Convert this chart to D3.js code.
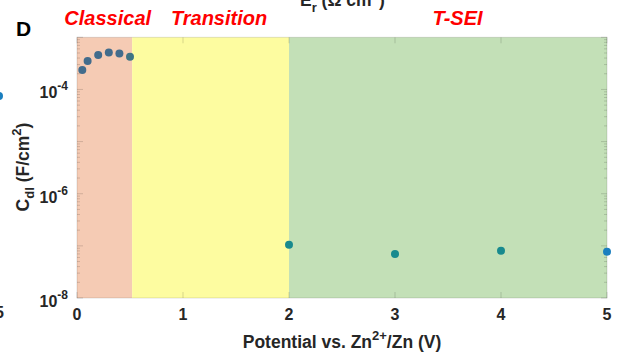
<!DOCTYPE html>
<html>
<head>
<meta charset="utf-8">
<script src="https://cdn.jsdelivr.net/npm/d3@7"></script>
<style>
    body { margin: 0; background: #fff; }
    svg { display: block; font-family: Arial, "Liberation Sans", sans-serif; }
    .tick_label { font-size: 16px; font-weight: bold; fill: #262626; }
    .region_label { font-size: 20px; font-weight: bold; font-style: italic; fill: #ff0000; }
</style>
</head>
<body>
<svg id="chart" width="621" height="360"></svg>
<script>
// potential (V) and double-layer capacitance (F/cm2)
let classical_x = [0.05, 0.1, 0.2, 0.3, 0.4, 0.5],
    classical_c = [2.35e-4, 3.5e-4, 4.6e-4, 5.1e-4, 4.9e-4, 4.25e-4];
let tsei_x = [2, 3, 4, 5],
    tsei_c = [1.05e-7, 7.0e-8, 8.1e-8, 7.7e-8];

let regions = [
    {name: "Classical", from: 0, to: 0.52, fill: "#f5cbb4"},
    {name: "Transition", from: 0.52, to: 2, fill: "#fdfca0"},
    {name: "T-SEI", from: 2, to: 5, fill: "#c3e0b7"}
];
let region_label_x = [0.29, 1.34, 3.59];

let x_ticks = [0, 1, 2, 3, 4, 5],
    y_ticks = [-8, -6, -4];

let svg = d3.select("#chart");

let xScale = d3.scaleLinear()
    .domain([0, 5])
    .range([77, 607]);

let yScale = d3.scaleLog()
    .domain([1e-8, 1e-3])
    .range([298, 37.3]);

// shaded regions
svg.append("g")
    .selectAll("rect")
    .data(regions)
    .enter()
    .append("rect")
    .attr("x", d => xScale(d.from))
    .attr("y", yScale(1e-3))
    .attr("width", d => xScale(d.to) - xScale(d.from))
    .attr("height", yScale(1e-8) - yScale(1e-3))
    .attr("fill", d => d.fill);

// faint box and ticks
let axis_col = "rgba(0,0,0,0.12)";
svg.append("rect")
    .attr("x", xScale(0))
    .attr("y", yScale(1e-3))
    .attr("width", xScale(5) - xScale(0))
    .attr("height", yScale(1e-8) - yScale(1e-3))
    .attr("fill", "none")
    .attr("stroke", axis_col);

let minor = [];
for(let e = -8; e < -3; e++) {
    for(let m = 1; m < 10; m++) minor.push({v: m * Math.pow(10, e), major: m === 1});
}
minor.push({v: 1e-3, major: true});

for(let side of [0, 5]) {
    let dir = side === 0 ? 1 : -1;
    svg.append("g")
        .selectAll("line")
        .data(minor)
        .enter()
        .append("line")
        .attr("x1", xScale(side))
        .attr("x2", d => xScale(side) + dir * (d.major ? 6 : 3))
        .attr("y1", d => yScale(d.v))
        .attr("y2", d => yScale(d.v))
        .attr("stroke", "rgba(0,0,0,0.15)");
}
for(let edge of [1e-8, 1e-3]) {
    let dir = edge === 1e-8 ? -1 : 1;
    svg.append("g")
        .selectAll("line")
        .data(x_ticks)
        .enter()
        .append("line")
        .attr("x1", d => xScale(d))
        .attr("x2", d => xScale(d))
        .attr("y1", yScale(edge))
        .attr("y2", yScale(edge) + dir * 6)
        .attr("stroke", "rgba(0,0,0,0.15)");
}

// tick labels
svg.append("g")
    .selectAll("text")
    .data(x_ticks)
    .enter()
    .append("text")
    .attr("class", "tick_label")
    .attr("x", d => xScale(d))
    .attr("y", 320)
    .attr("text-anchor", "middle")
    .text(d => d);

let ylab = svg.append("g")
    .selectAll("text")
    .data(y_ticks)
    .enter()
    .append("text")
    .attr("class", "tick_label")
    .attr("x", xScale(0) - 9)
    .attr("y", d => yScale(Math.pow(10, d)) + 9)
    .attr("text-anchor", "end");
ylab.append("tspan").text("10");
ylab.append("tspan")
    .attr("dy", -8)
    .style("font-size", "12px")
    .text(d => d);

// data points
svg.append("g")
    .selectAll("circle")
    .data(classical_x.map((x, i) => [x, classical_c[i]]))
    .enter()
    .append("circle")
    .attr("cx", d => xScale(d[0]))
    .attr("cy", d => yScale(d[1]))
    .attr("r", 4)
    .attr("fill", d => d[0] === 0.5 ? "#3f7484" : "#426c8c");

svg.append("g")
    .selectAll("circle")
    .data(tsei_x.map((x, i) => [x, tsei_c[i]]))
    .enter()
    .append("circle")
    .attr("cx", d => xScale(d[0]))
    .attr("cy", d => yScale(d[1]))
    .attr("r", 4)
    .attr("fill", d => d[0] === 5 ? "#1a7fbf" : "#188a8e");

// region labels
svg.append("g")
    .selectAll("text")
    .data(regions)
    .enter()
    .append("text")
    .attr("class", "region_label")
    .attr("x", (d, i) => xScale(region_label_x[i]))
    .attr("y", 25)
    .attr("text-anchor", "middle")
    .text(d => d.name);

// axis titles
let xt = svg.append("text")
    .attr("x", 342)
    .attr("y", 348)
    .attr("text-anchor", "middle")
    .style("font-size", "17.5px")
    .style("font-weight", "bold")
    .attr("fill", "#262626");
xt.append("tspan").text("Potential vs. Zn");
xt.append("tspan").attr("dy", -8).style("font-size", "13px").text("2+");
xt.append("tspan").attr("dy", 8).text("/Zn (V)");

let yt = svg.append("text")
    .attr("transform", "translate(29,167) rotate(-90)")
    .attr("text-anchor", "middle")
    .style("font-size", "17.5px")
    .style("font-weight", "bold")
    .attr("fill", "#262626");
yt.append("tspan").text("C");
yt.append("tspan").attr("dy", 5).style("font-size", "13px").text("dl");
yt.append("tspan").attr("dy", -5).text(" (F/cm");
yt.append("tspan").attr("dy", -8).style("font-size", "13px").text("2");
yt.append("tspan").attr("dy", 8).text(")");

// panel letter and neighbouring-panel fragments
svg.append("text")
    .attr("x", 16)
    .attr("y", 36)
    .style("font-size", "21px")
    .style("font-weight", "bold")
    .text("D");

let frag = svg.append("text")
    .attr("x", 300)
    .attr("y", 6)
    .style("font-size", "17.5px")
    .style("font-weight", "bold")
    .attr("fill", "#262626");
frag.append("tspan").text("E");
frag.append("tspan").attr("dy", 6).style("font-size", "13px").text("r");
frag.append("tspan").attr("dy", -6).text(" (Ω cm");
frag.append("tspan").attr("dy", -8).style("font-size", "13px").text("2");
frag.append("tspan").attr("dy", 8).text(")");

svg.append("circle")
    .attr("cx", -1)
    .attr("cy", 96)
    .attr("r", 4)
    .attr("fill", "#1a7fbf");
svg.append("text")
    .attr("class", "tick_label")
    .attr("x", 4)
    .attr("y", 318)
    .attr("text-anchor", "end")
    .text("5");
</script>
</body>
</html>
